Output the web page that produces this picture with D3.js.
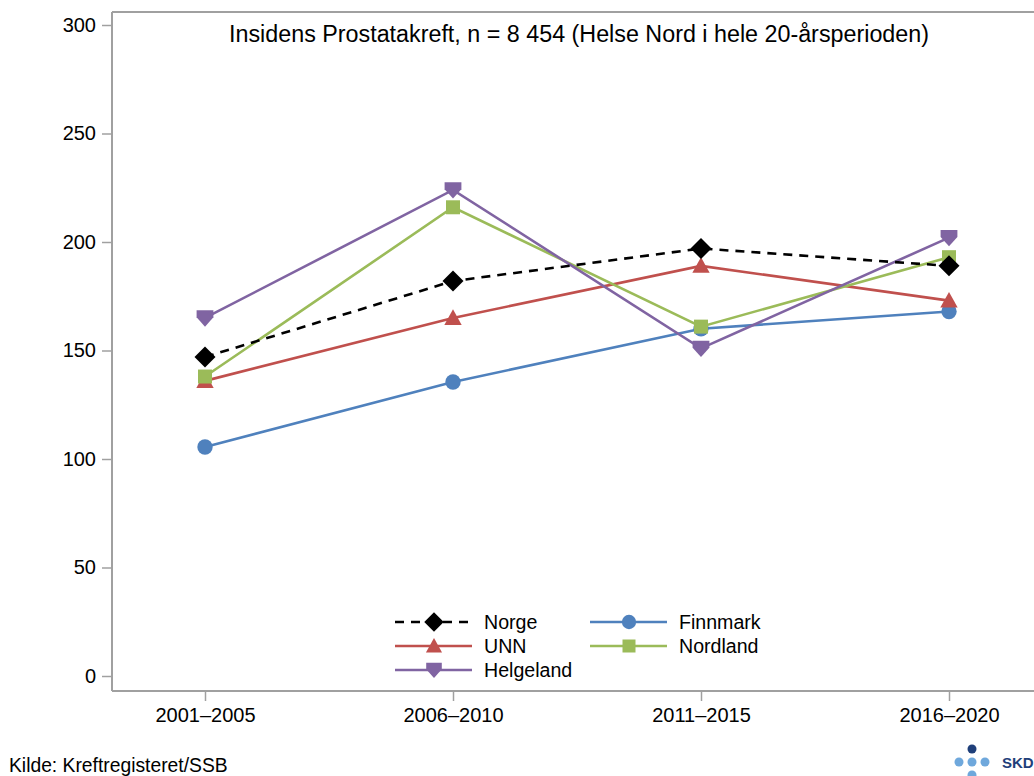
<!DOCTYPE html>
<html>
<head>
<meta charset="utf-8">
<script src="https://cdn.jsdelivr.net/npm/d3@7"></script>
<style>
  html, body { margin: 0; padding: 0; background: #fff; }
  svg { display: block; font-family: "Liberation Sans", Arial, sans-serif; }
</style>
</head>
<body>
<svg id="chart" width="1034" height="776"></svg>
<script>
// Periods and incidence per region
const periods = ["2001–2005", "2006–2010", "2011–2015", "2016–2020"];
const norge     = [147, 182, 197, 189];
const unn       = [136, 165, 189, 173];
const finnmark  = [105.5, 135.5, 160, 168];
const nordland  = [138, 216, 161, 193];
const helgeland = [165, 224, 151, 202];
const yTicks = [0, 50, 100, 150, 200, 250, 300];

const titleText = "Insidens Prostatakreft, n = 8 454 (Helse Nord i hele 20-årsperioden)";
const sourceText = "Kilde: Kreftregisteret/SSB";

const series = [
  { name: "Norge",     values: norge,     color: "#000000", symbol: "diamond",  dash: "9,7" },
  { name: "UNN",       values: unn,       color: "#C0504D", symbol: "triangle", dash: null },
  { name: "Helgeland", values: helgeland, color: "#8064A2", symbol: "tridown",  dash: null },
  { name: "Finnmark",  values: finnmark,  color: "#4F81BD", symbol: "circle",   dash: null },
  { name: "Nordland",  values: nordland,  color: "#9BBB59", symbol: "square",   dash: null }
];

const svg = d3.select("#chart");
const axisColor = "#a0a0a0";
const font = "Liberation Sans, Arial, sans-serif";

const x = d3.scalePoint().domain(periods).range([205, 949]);
const y = d3.scaleLinear().domain([0, 300]).range([676, 25]);

// frame: left axis, bottom axis, top border
svg.append("line").attr("x1", 112).attr("x2", 1034).attr("y1", 12).attr("y2", 12)
  .attr("stroke", axisColor).attr("stroke-width", 2);

const yAxis = svg.append("g").attr("transform", "translate(112,0)")
  .call(d3.axisLeft(y).tickValues(yTicks).tickSize(10).tickPadding(6));
yAxis.select(".domain").attr("d", "M0,12V691").attr("stroke", axisColor).attr("stroke-width", 2);
yAxis.selectAll(".tick line").attr("stroke", axisColor).attr("stroke-width", 1.5);
yAxis.selectAll(".tick text").attr("fill", "#000").style("font-size", "20px")
  .style("font-family", font);

const xAxis = svg.append("g").attr("transform", "translate(0,691)")
  .call(d3.axisBottom(x).tickSize(10).tickPadding(7));
xAxis.select(".domain").attr("d", "M112,0H1034").attr("stroke", axisColor).attr("stroke-width", 2);
xAxis.selectAll(".tick line").attr("stroke", axisColor).attr("stroke-width", 1.5);
xAxis.selectAll(".tick text").attr("fill", "#000").style("font-size", "20px")
  .style("font-family", font);

// title
svg.append("text").attr("x", 579).attr("y", 42).attr("text-anchor", "middle")
  .style("font-size", "23.3px").attr("fill", "#000").text(titleText);

// marker shapes
function symbolPath(kind, size) {
  const s = size;
  switch (kind) {
    case "diamond":  return `M0,${-s*0.75}L${s*0.75},0L0,${s*0.75}L${-s*0.75},0Z`;
    case "triangle": return `M0,${-s*0.62}L${s*0.62},${s*0.5}L${-s*0.62},${s*0.5}Z`;
    case "tridown":  return `M${-s*0.6},${-s*0.55}L${s*0.6},${-s*0.55}L${s*0.6},${-s*0.05}L0,${s*0.62}L${-s*0.6},${-s*0.05}Z`;
    case "square":   return `M${-s*0.5},${-s*0.5}H${s*0.5}V${s*0.5}H${-s*0.5}Z`;
    default:         return d3.symbol(d3.symbolCircle, Math.PI * (s*0.55) * (s*0.55))();
  }
}

const line = d3.line().x((d, i) => x(periods[i])).y(d => y(d));

// draw order so Norge sits on top
const drawOrder = ["Finnmark", "UNN", "Nordland", "Helgeland", "Norge"];
drawOrder.forEach(nm => {
  const s = series.find(d => d.name === nm);
  const g = svg.append("g");
  g.append("path").datum(s.values).attr("d", line)
    .attr("fill", "none").attr("stroke", s.color).attr("stroke-width", 2.6)
    .attr("stroke-dasharray", s.dash);
  g.selectAll("path.m").data(s.values).join("path").attr("class", "m")
    .attr("transform", (d, i) => `translate(${x(periods[i])},${y(d)})`)
    .attr("d", symbolPath(s.symbol, 14)).attr("fill", s.color);
});

// legend
const legendPos = {
  Norge:     [395, 622], UNN: [395, 646], Helgeland: [395, 670],
  Finnmark:  [590, 622], Nordland: [590, 646]
};
series.forEach(s => {
  const [lx, ly] = legendPos[s.name];
  const g = svg.append("g").attr("transform", `translate(${lx},${ly})`);
  g.append("line").attr("x1", 0).attr("x2", 77).attr("y1", 0).attr("y2", 0)
    .attr("stroke", s.color).attr("stroke-width", 2.6).attr("stroke-dasharray", s.dash);
  g.append("path").attr("transform", "translate(39,0)").attr("d", symbolPath(s.symbol, 13))
    .attr("fill", s.color);
  g.append("text").attr("x", 89).attr("y", 7).style("font-size", "19.6px")
    .attr("fill", "#000").text(s.name);
});

// source note
svg.append("text").attr("x", 9).attr("y", 772).style("font-size", "19.3px")
  .attr("fill", "#000").text(sourceText);

// logo
const logo = svg.append("g");
logo.append("circle").attr("cx", 972).attr("cy", 749).attr("r", 4.5).attr("fill", "#1F3F7A");
[959, 972, 985].forEach(cx => logo.append("circle").attr("cx", cx).attr("cy", 762).attr("r", 4.5).attr("fill", "#6FA8DC"));
logo.append("circle").attr("cx", 972).attr("cy", 775).attr("r", 4.5).attr("fill", "#6FA8DC");
logo.append("text").attr("x", 1002).attr("y", 768).style("font-size", "15px").style("font-weight", "bold")
  .attr("fill", "#1F3F7A").text("SKD");
</script>
</body>
</html>
